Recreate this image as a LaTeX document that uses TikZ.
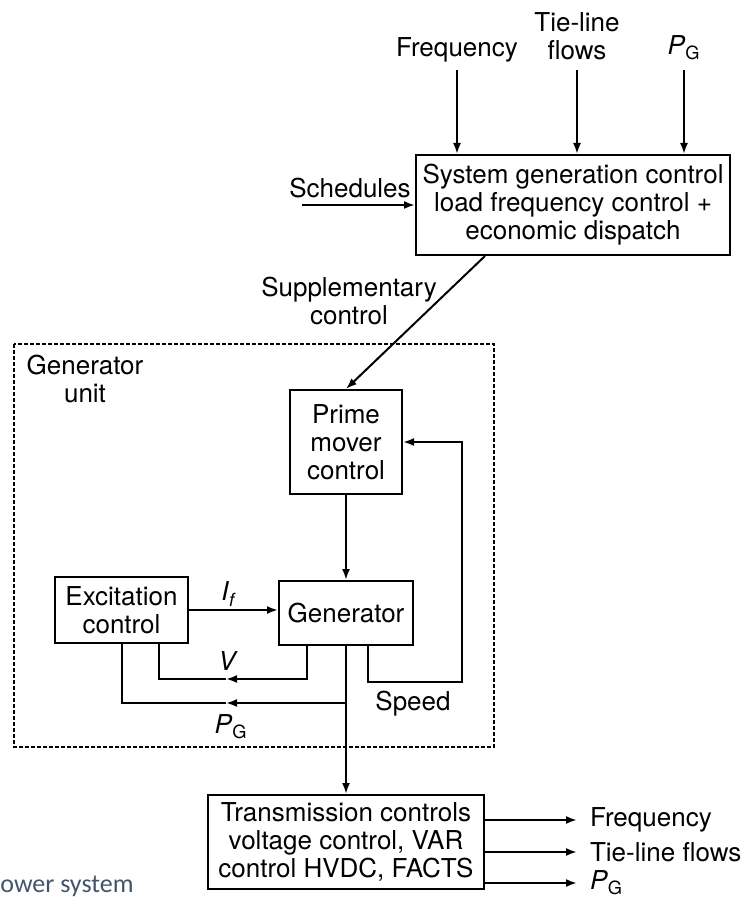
\documentclass[tikz,border=0pt]{standalone}
\usepackage{fontspec}
\setmainfont{TeX Gyre Heros}
\newfontfamily\capfont{Carlito}
\usetikzlibrary{arrows.meta}
\definecolor{capblue}{RGB}{68,84,106}
\newcommand{\PG}{\textit{P}\textsubscript{G}}
\newcommand{\Ifld}{\textit{I}\textsubscript{\textit{f}}}
\tikzset{
  blk/.style={draw,line width=1pt,align=center,inner sep=2pt},
  arw/.style={line width=1pt,-{Latex[length=5.5pt,width=4pt]}},
  wire/.style={line width=1pt},
  unitbox/.style={line width=1pt,dash pattern=on 2pt off 1pt},
}

\begin{document}
\begin{tikzpicture}[x=0.5pt,y=-0.5pt,font=\fontsize{13}{14}\selectfont]
\useasboundingbox (0,0) rectangle (755,897);
\node[blk,minimum width=157pt,minimum height=50pt] (sgc) at (573,205) {System generation control\\load frequency control +\\economic dispatch};
\node (frq) at (457,50) {Frequency};
\node[align=center] (tie) at (577,36) {Tie-line\\flows};
\node (pgin) at (684,48) {\PG};
\coordinate (frq0) at (457,70);
\coordinate (tie0) at (577,70);
\coordinate (pgin0) at (684,70);
\draw[arw] (frq0) -- (frq0 |- sgc.north);
\draw[arw] (tie0) -- (tie0 |- sgc.north);
\draw[arw] (pgin0) -- (pgin0 |- sgc.north);
\node (sch) at (350,188) {Schedules};
\coordinate (sch0) at (302,205);
\draw[arw] (sch0) -- (sch0 -| sgc.west);
\node[align=center] (supp) at (349,301) {Supplementary\\control};
\draw[unitbox] (14,344) rectangle (494,747);
\node[align=center] (gu) at (85,379) {Generator\\unit};
\node[blk,minimum width=56pt,minimum height=52pt] (pm) at (346,442) {Prime\\mover\\control};
\node[blk,minimum width=67pt,minimum height=32pt] (gen) at (346,613) {Generator};
\node[blk,minimum width=66.5pt,minimum height=33pt] (exc) at (121.5,610) {Excitation\\control};
\node[blk,minimum width=138pt,minimum height=47pt] (tc) at (346,842) {Transmission controls\\voltage control, VAR\\control HVDC, FACTS};
\draw[arw] ([xshift=-44pt]sgc.south) -- (pm.north);
\draw[arw] (pm) -- (gen);
\draw[arw] (exc.east) -- (exc.east -| gen.west);
\node (ifl) at (229,594) {\Ifld};
\coordinate (vmid) at (226,679);
\draw[arw] ([xshift=-19.5pt]gen.south) |- (vmid);
\draw[wire] (vmid) -| ([xshift=18.75pt]exc.south);
\node (vlbl) at (228,661) {\textit{V}};
\coordinate (pgj) at (346,703);
\coordinate (pgmid) at (226,703);
\draw[arw] (pgj) -- (pgmid);
\draw[wire] (pgmid) -| (exc.south);
\node (pglbl) at (231,727) {\PG};
\coordinate (spd) at (462,682);
\draw[arw] ([xshift=11pt]gen.south) |- (spd) |- (pm.east);
\node (spdlbl) at (413,704) {Speed};
\draw[arw] (gen) -- (tc);
\coordinate (out1) at (577,820);
\coordinate (out2) at (577,852);
\coordinate (out3) at (577,883);
\draw[arw] (out1 -| tc.east) -- (out1);
\draw[arw] (out2 -| tc.east) -- (out2);
\draw[arw] (out3 -| tc.east) -- (out3);
\node[anchor=west] (frqout) at (583,820) {Frequency};
\node[anchor=west] (tieout) at (583,852) {Tie-line flows};
\node[anchor=west] (pgout) at (583,883) {\PG};
\node[anchor=base west,inner sep=0pt,text=capblue,font=\capfont\fontsize{13}{15}\selectfont] (cap) at (0,892) {ower system};
\end{tikzpicture}
\end{document}
